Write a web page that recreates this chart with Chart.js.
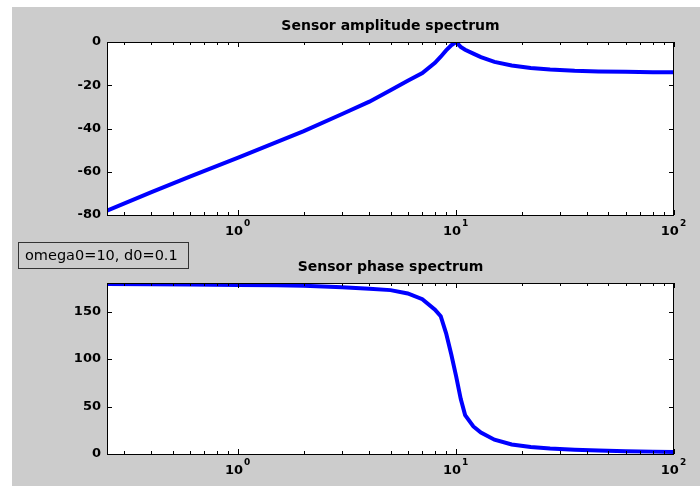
<!DOCTYPE html>
<html>
<head>
<meta charset="utf-8">
<script src="https://cdn.jsdelivr.net/npm/chart.js@4.4.0/dist/chart.umd.min.js"></script>
<style>
  html, body { margin: 0; padding: 0; background: #fff; }
  #fig { position: absolute; left: 12px; top: 7px; width: 688px; height: 479px; background: #cccccc; overflow: hidden; }
  canvas { position: absolute; left: 0; }
  #ampCanvas { top: 0; }
  #phaseCanvas { top: 240px; }
  #note {
    position: absolute; left: 6px; top: 235px; width: 171px; height: 27px;
    box-sizing: border-box; border: 1px solid #333; color: #000;
    font: 14.5px "DejaVu Sans", sans-serif; line-height: 25px; padding-left: 6px;
  }
</style>
</head>
<body>
<div id="fig">
  <canvas id="ampCanvas" width="688" height="240"></canvas>
  <canvas id="phaseCanvas" width="688" height="239"></canvas>
  <div id="note">omega0=10, d0=0.1</div>
</div>
<script>
// frequency (rad/s) and the two responses
const freq = [0.25, 0.4, 0.6, 1, 1.5, 2, 3, 4, 5, 6, 7, 8, 8.5, 9, 9.5, 10, 10.5, 11, 12, 13, 15, 18, 22, 27, 35, 45, 60, 80, 100];
const ampDb = [-78, -69.4, -62.3, -53.5, -46.3, -41.2, -33.3, -27.6, -22.3, -17.9, -14.4, -9.6, -6.8, -3.9, -1.5, 0, -2.3, -3.6, -5.4, -7.0, -9.2, -10.9, -12.0, -12.7, -13.3, -13.6, -13.8, -14.0, -14.0];
const phaseDeg = [179, 178.8, 178.5, 178, 177.5, 177, 175.5, 174, 172.5, 169, 163, 152, 145, 127, 105, 82, 58, 41, 29, 22.5, 15, 10, 7.3, 5.8, 4.5, 3.6, 2.9, 2.5, 2.2];

const ampTicks = [-80, -60, -40, -20, 0];
const phaseTicks = [0, 50, 100, 150];

const FONT = '"DejaVu Sans", sans-serif';

// white axes, inward ticks on all four sides, 10^n labels
const matlabAxes = {
  id: 'matlabAxes',
  beforeDraw(chart) {
    const { ctx, chartArea: a } = chart;
    ctx.save();
    ctx.fillStyle = '#fff';
    ctx.fillRect(a.left, a.top, a.width, a.height);
    ctx.restore();
  },
  afterDraw(chart) {
    const { ctx, chartArea: a, scales } = chart;
    const x = scales.x, y = scales.y;
    ctx.save();
    ctx.strokeStyle = '#000';
    ctx.lineWidth = 1;
    ctx.beginPath();
    x.ticks.forEach(t => {
      const e = Math.floor(Math.log10(t.value) + 1e-9);
      const m = t.value / Math.pow(10, e);
      if (Math.abs(m - Math.round(m)) > 1e-6) return;
      const px = Math.round(x.getPixelForValue(t.value)) + 0.5;
      const len = Math.round(m) === 1 ? 5 : 3;
      ctx.moveTo(px, a.bottom); ctx.lineTo(px, a.bottom - len);
      ctx.moveTo(px, a.top); ctx.lineTo(px, a.top + len);
    });
    y.ticks.forEach(t => {
      const py = Math.round(y.getPixelForValue(t.value)) + 0.5;
      ctx.moveTo(a.left, py); ctx.lineTo(a.left + 5, py);
      ctx.moveTo(a.right, py); ctx.lineTo(a.right - 5, py);
    });
    ctx.stroke();
    ctx.strokeRect(a.left + 0.5, a.top + 0.5, a.width - 1, a.height);

    // decade labels
    ctx.fillStyle = '#000';
    ctx.textBaseline = 'alphabetic';
    [1, 10, 100].forEach(v => {
      const e = String(Math.round(Math.log10(v)));
      const px = x.getPixelForValue(v);
      ctx.font = 'bold 13px ' + FONT;
      const w1 = ctx.measureText('10').width;
      ctx.font = 'bold 9px ' + FONT;
      const w2 = ctx.measureText(e).width;
      const x0 = px - (w1 + w2) / 2 - 1;
      ctx.font = 'bold 13px ' + FONT;
      ctx.fillText('10', x0, a.bottom + 19.5);
      ctx.font = 'bold 9px ' + FONT;
      ctx.fillText(e, x0 + w1 + 1, a.bottom + 11);
    });
    ctx.restore();
  }
};

function makeChart(id, title, values, yMin, yMax, yTicks, titleTop) {
  return new Chart(document.getElementById(id), {
    type: 'line',
    data: {
      datasets: [{
        data: freq.map((f, i) => ({ x: f, y: values[i] })),
        borderColor: '#0000ff',
        borderWidth: 4,
        pointRadius: 0,
        tension: 0,
        fill: false
      }]
    },
    options: {
      responsive: false,
      animation: false,
      layout: { padding: { left: 0, right: 26, top: 0, bottom: 0 } },
      plugins: {
        legend: { display: false },
        tooltip: { enabled: false },
        title: {
          display: true,
          fullSize: false,
          text: title,
          color: '#000',
          font: { family: FONT, size: 14, weight: 'bold', lineHeight: 1.2 },
          padding: { top: titleTop, bottom: 7.2 }
        }
      },
      scales: {
        x: {
          type: 'logarithmic',
          min: 0.25,
          max: 100,
          grid: { display: false, drawTicks: false },
          border: { display: false },
          ticks: { display: false },
          afterFit: s => { s.height = 32; }
        },
        y: {
          min: yMin,
          max: yMax,
          grid: { display: false, drawTicks: false },
          border: { display: false },
          afterBuildTicks: s => { s.ticks = yTicks.map(v => ({ value: v })); },
          ticks: {
            color: '#000',
            padding: 6,
            font: { family: FONT, size: 13, weight: 'bold' }
          },
          afterFit: s => { s.width = 95; }
        }
      }
    },
    plugins: [matlabAxes]
  });
}

makeChart('ampCanvas', 'Sensor amplitude spectrum', ampDb, -80, 0, ampTicks, 11);
makeChart('phaseCanvas', 'Sensor phase spectrum', phaseDeg, 0, 180, phaseTicks, 12);
</script>
</body>
</html>
